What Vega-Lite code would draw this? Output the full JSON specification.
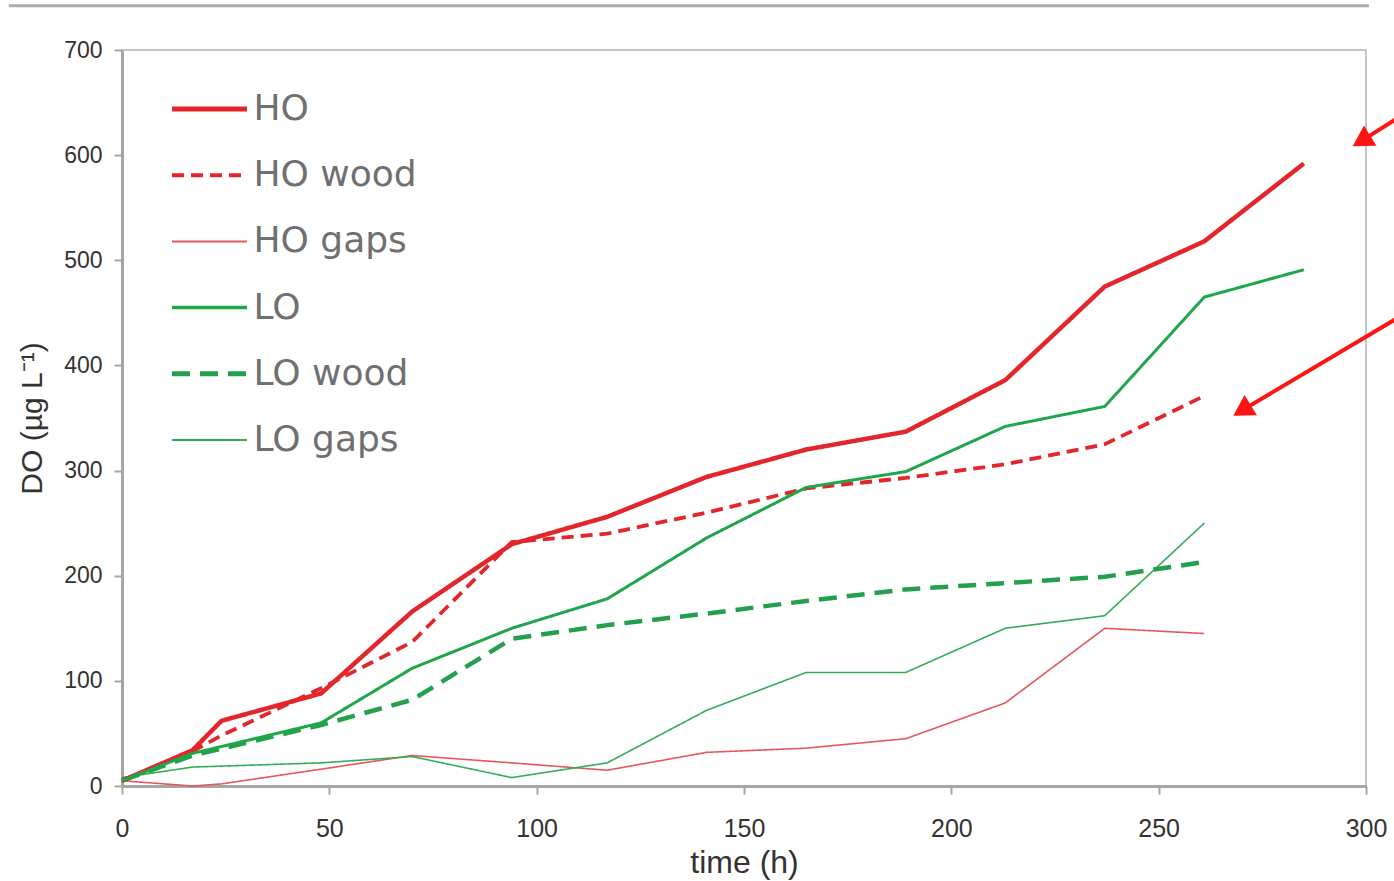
{
  "$schema": "https://vega.github.io/schema/vega-lite/v6.json",
  "autosize": "none",
  "width": 1244,
  "height": 736,
  "padding": {"left": 122, "top": 50, "right": 28, "bottom": 95},
  "background": "white",
  "config": {
    "view": {"stroke": "#c4c4c4", "strokeWidth": 2},
    "axis": {
      "grid": false,
      "domainColor": "#a6a6a6",
      "domainWidth": 3,
      "tickColor": "#a6a6a6",
      "tickWidth": 2,
      "tickSize": 8,
      "labelColor": "#333333",
      "titleColor": "#333333",
      "titleFontWeight": "normal"
    }
  },
  "datasets": {
    "obs": [
      {"series": "HO", "t": 0, "v": 5}, {"series": "HO", "t": 17, "v": 34}, {"series": "HO", "t": 24, "v": 62}, {"series": "HO", "t": 48, "v": 88}, {"series": "HO", "t": 70, "v": 166}, {"series": "HO", "t": 94, "v": 230}, {"series": "HO", "t": 117, "v": 256}, {"series": "HO", "t": 141, "v": 294}, {"series": "HO", "t": 165, "v": 320}, {"series": "HO", "t": 189, "v": 337}, {"series": "HO", "t": 213, "v": 386}, {"series": "HO", "t": 237, "v": 475}, {"series": "HO", "t": 261, "v": 518}, {"series": "HO", "t": 285, "v": 592},
      {"series": "HO wood", "t": 0, "v": 5}, {"series": "HO wood", "t": 17, "v": 33}, {"series": "HO wood", "t": 24, "v": 48}, {"series": "HO wood", "t": 48, "v": 93}, {"series": "HO wood", "t": 70, "v": 137}, {"series": "HO wood", "t": 94, "v": 232}, {"series": "HO wood", "t": 117, "v": 240}, {"series": "HO wood", "t": 141, "v": 260}, {"series": "HO wood", "t": 165, "v": 283}, {"series": "HO wood", "t": 189, "v": 293}, {"series": "HO wood", "t": 213, "v": 306}, {"series": "HO wood", "t": 237, "v": 325}, {"series": "HO wood", "t": 261, "v": 371},
      {"series": "HO gaps", "t": 0, "v": 5}, {"series": "HO gaps", "t": 17, "v": 0}, {"series": "HO gaps", "t": 24, "v": 2}, {"series": "HO gaps", "t": 48, "v": 16}, {"series": "HO gaps", "t": 70, "v": 29}, {"series": "HO gaps", "t": 94, "v": 22}, {"series": "HO gaps", "t": 117, "v": 15}, {"series": "HO gaps", "t": 141, "v": 32}, {"series": "HO gaps", "t": 165, "v": 36}, {"series": "HO gaps", "t": 189, "v": 45}, {"series": "HO gaps", "t": 213, "v": 79}, {"series": "HO gaps", "t": 237, "v": 150}, {"series": "HO gaps", "t": 261, "v": 145},
      {"series": "LO", "t": 0, "v": 5}, {"series": "LO", "t": 17, "v": 31}, {"series": "LO", "t": 48, "v": 60}, {"series": "LO", "t": 70, "v": 112}, {"series": "LO", "t": 94, "v": 150}, {"series": "LO", "t": 117, "v": 178}, {"series": "LO", "t": 141, "v": 236}, {"series": "LO", "t": 165, "v": 284}, {"series": "LO", "t": 189, "v": 299}, {"series": "LO", "t": 213, "v": 342}, {"series": "LO", "t": 237, "v": 361}, {"series": "LO", "t": 261, "v": 465}, {"series": "LO", "t": 285, "v": 491},
      {"series": "LO wood", "t": 0, "v": 5}, {"series": "LO wood", "t": 17, "v": 29}, {"series": "LO wood", "t": 48, "v": 58}, {"series": "LO wood", "t": 70, "v": 82}, {"series": "LO wood", "t": 94, "v": 140}, {"series": "LO wood", "t": 117, "v": 153}, {"series": "LO wood", "t": 141, "v": 164}, {"series": "LO wood", "t": 165, "v": 176}, {"series": "LO wood", "t": 189, "v": 187}, {"series": "LO wood", "t": 213, "v": 193}, {"series": "LO wood", "t": 237, "v": 199}, {"series": "LO wood", "t": 261, "v": 213},
      {"series": "LO gaps", "t": 0, "v": 8}, {"series": "LO gaps", "t": 17, "v": 18}, {"series": "LO gaps", "t": 48, "v": 22}, {"series": "LO gaps", "t": 70, "v": 28}, {"series": "LO gaps", "t": 94, "v": 8}, {"series": "LO gaps", "t": 117, "v": 22}, {"series": "LO gaps", "t": 141, "v": 72}, {"series": "LO gaps", "t": 165, "v": 108}, {"series": "LO gaps", "t": 189, "v": 108}, {"series": "LO gaps", "t": 213, "v": 150}, {"series": "LO gaps", "t": 237, "v": 162}, {"series": "LO gaps", "t": 261, "v": 250}
    ],
    "arrows": [
      {"t": 309.9, "v": 641, "t2": 299.6, "v2": 615.2},
      {"t": 309.9, "v": 450.5, "t2": 270.8, "v2": 358.9}
    ],
    "heads": [
      {"t": 299.6, "v": 615.2},
      {"t": 270.8, "v": 358.9}
    ],
    "frame": [
      {"t": -27.3, "t2": 300.7, "v": 742}
    ]
  },
  "layer": [
    {
      "data": {"name": "frame"},
      "mark": {"type": "rule", "color": "#a9aeae", "strokeWidth": 3},
      "encoding": {
        "x": {"field": "t", "type": "quantitative", "scale": {"domain": [0, 300], "nice": false}},
        "x2": {"field": "t2"},
        "y": {"field": "v", "type": "quantitative", "scale": {"domain": [0, 700], "nice": false}}
      }
    },
    {
      "data": {"name": "obs"},
      "transform": [{"filter": "datum.series === 'HO gaps' || datum.series === 'LO gaps'"}],
      "mark": {"type": "line", "strokeWidth": 1.6},
      "encoding": {
        "x": {"field": "t", "type": "quantitative", "scale": {"domain": [0, 300], "nice": false},
          "axis": {"values": [0, 50, 100, 150, 200, 250, 300], "title": "time (h)", "labelFlush": false, "labelFont": "Liberation Sans", "labelFontSize": 25, "labelPadding": 22, "titleFont": "Liberation Sans", "titleFontSize": 32, "titlePadding": 6}},
        "y": {"field": "v", "type": "quantitative", "scale": {"domain": [0, 700], "nice": false},
          "axis": {"values": [0, 100, 200, 300, 400, 500, 600, 700], "title": "DO (µg L⁻¹)", "labelFlush": false, "labelFont": "Liberation Sans", "labelFontSize": 23, "labelPadding": 12, "titleFont": "Liberation Sans", "titleFontSize": 30, "titlePadding": 16}},
        "color": {"field": "series", "type": "nominal",
          "scale": {"domain": ["HO", "HO wood", "HO gaps", "LO", "LO wood", "LO gaps"], "range": ["#e3262b", "#e3262b", "#e5585a", "#1fa64a", "#22a04e", "#34ad5a"]},
          "legend": {"title": null, "orient": "none", "legendX": 50, "legendY": 41, "padding": 0, "symbolType": "stroke", "symbolSize": 5625, "symbolOffset": 19.5, "rowPadding": 30.2, "labelOffset": 26, "labelLimit": 500, "labelFont": "DejaVu Sans", "labelFontSize": 36, "labelColor": "#707070",
            "encode": {"symbols": {"update": {"strokeWidth": {"signal": "datum.value === 'HO' || datum.value === 'LO wood' ? 5 : datum.value === 'HO wood' ? 4 : datum.value === 'LO' ? 3.5 : 2"}}}}}},
        "strokeDash": {"field": "series", "type": "nominal",
          "scale": {"domain": ["HO", "HO wood", "HO gaps", "LO", "LO wood", "LO gaps"], "range": [[1, 0], [12, 7], [1, 0], [1, 0], [18, 10], [1, 0]]},
          "legend": {"title": null, "orient": "none", "legendX": 50, "legendY": 41, "padding": 0, "symbolType": "stroke", "symbolSize": 5625, "symbolOffset": 19.5, "rowPadding": 30.2, "labelOffset": 26, "labelLimit": 500, "labelFont": "DejaVu Sans", "labelFontSize": 36, "labelColor": "#707070"}}
      }
    },
    {
      "data": {"name": "obs"},
      "transform": [{"filter": "datum.series === 'HO' || datum.series === 'LO wood'"}],
      "mark": {"type": "line", "strokeWidth": 4.5},
      "encoding": {
        "x": {"field": "t", "type": "quantitative"},
        "y": {"field": "v", "type": "quantitative"},
        "color": {"field": "series", "type": "nominal"},
        "strokeDash": {"field": "series", "type": "nominal"}
      }
    },
    {
      "data": {"name": "obs"},
      "transform": [{"filter": "datum.series === 'HO wood'"}],
      "mark": {"type": "line", "strokeWidth": 3.8},
      "encoding": {
        "x": {"field": "t", "type": "quantitative"},
        "y": {"field": "v", "type": "quantitative"},
        "color": {"field": "series", "type": "nominal"},
        "strokeDash": {"field": "series", "type": "nominal"}
      }
    },
    {
      "data": {"name": "obs"},
      "transform": [{"filter": "datum.series === 'LO'"}],
      "mark": {"type": "line", "strokeWidth": 3},
      "encoding": {
        "x": {"field": "t", "type": "quantitative"},
        "y": {"field": "v", "type": "quantitative"},
        "color": {"field": "series", "type": "nominal"},
        "strokeDash": {"field": "series", "type": "nominal"}
      }
    },
    {
      "data": {"name": "arrows"},
      "mark": {"type": "rule", "color": "#ff1414", "strokeWidth": 4},
      "encoding": {
        "x": {"field": "t", "type": "quantitative"},
        "x2": {"field": "t2"},
        "y": {"field": "v", "type": "quantitative"},
        "y2": {"field": "v2"}
      }
    },
    {
      "data": {"name": "heads"},
      "mark": {"type": "point", "shape": "triangle", "filled": true, "color": "#ff1414", "opacity": 1, "size": 560, "angle": 238.5},
      "encoding": {
        "x": {"field": "t", "type": "quantitative"},
        "y": {"field": "v", "type": "quantitative"}
      }
    }
  ]
}
